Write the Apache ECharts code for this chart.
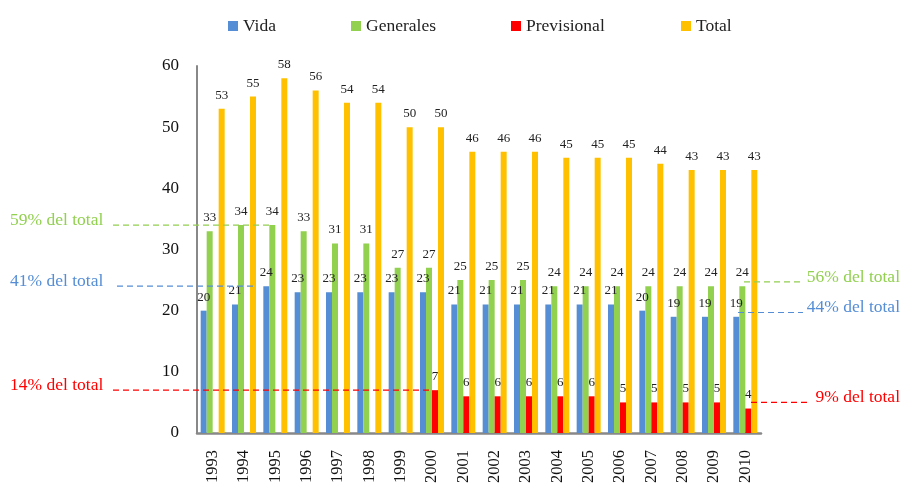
<!DOCTYPE html>
<html><head><meta charset="utf-8">
<script src="https://cdn.jsdelivr.net/npm/echarts@6/dist/echarts.min.js"></script>
<style>html,body{margin:0;padding:0;background:#fff}#c{width:901px;height:486px}</style>
</head><body><div id="c"></div>
<script>
const years = ['1993','1994','1995','1996','1997','1998','1999','2000','2001','2002','2003','2004','2005','2006','2007','2008','2009','2010'];
const vida = [20,21,24,23,23,23,23,23,21,21,21,21,21,21,20,19,19,19];
const generales = [33,34,34,33,31,31,27,27,25,25,25,24,24,24,24,24,24,24];
const previsional = [null,null,null,null,null,null,null,7,6,6,6,6,6,5,5,5,5,4];
const total = [53,55,58,56,54,54,50,50,46,46,46,45,45,45,44,43,43,43];
const yTicks = [0,10,20,30,40,50,60];

const FONT = '"Liberation Serif", "DejaVu Serif", serif';
const colors = {vida:'#558ED5', gen:'#92D050', prev:'#FF0000', tot:'#FFC000'};

const chart = echarts.init(document.getElementById('c'));
const lbl = {show:true, position:'top', distance:7, fontFamily:FONT, fontSize:13, color:'#222'};
function bar(name, data, color){
  return {name, type:'bar', data, barWidth:6, barGap:'0%', itemStyle:{color}, label:lbl, animation:false};
}
function leg(name, left){
  return {data:[name], top:12, left, itemWidth:10, itemHeight:10, icon:'rect',
    textStyle:{fontFamily:FONT, fontSize:17.5, color:'#222', padding:[0,0,0,0]}, itemGap:0};
}
chart.setOption({
  animation:false,
  legend:[leg('Vida',223), leg('Generales',346), leg('Previsional',506), leg('Total',676)],
  grid:{left:197, right:140, top:66, bottom:52, containLabel:false},
  xAxis:{type:'category', data:years,
    axisLine:{lineStyle:{color:'#888', width:2.5}}, axisTick:{show:false},
    axisLabel:{rotate:90, fontFamily:FONT, fontSize:16.5, color:'#111', margin:17}},
  yAxis:{type:'value', min:0, max:60, interval:10,
    axisLine:{show:true, lineStyle:{color:'#888', width:2}}, axisTick:{show:false}, splitLine:{show:false},
    axisLabel:{fontFamily:FONT, fontSize:17, color:'#111', margin:18,
      formatter:v=>yTicks.includes(v)?String(v):''}},
  series:[bar('Vida',vida,colors.vida), bar('Generales',generales,colors.gen),
          bar('Previsional',previsional,colors.prev), bar('Total',total,colors.tot)]
});

const notes = [
  {text:'59% del total', color:'#92D050', value:34, x1:113, x2:270, tx:10, side:'left'},
  {text:'41% del total', color:'#558ED5', value:24, x1:117, x2:257, tx:10, side:'left'},
  {text:'14% del total', color:'#FF0000', value:7, x1:113, x2:432, tx:10, side:'left'},
  {text:'56% del total', color:'#92D050', value:24.7, x1:744, x2:802, tx:900, side:'right'},
  {text:'44% del total', color:'#558ED5', value:19.7, x1:738, x2:803, tx:900, side:'right'},
  {text:'9% del total', color:'#FF0000', value:5, x1:751, x2:810, tx:900, side:'right'}
];
const g = [];
notes.forEach(n=>{
  const y = chart.convertToPixel({yAxisIndex:0}, n.value);
  g.push({type:'line', shape:{x1:n.x1, y1:y, x2:n.x2, y2:y}, style:{stroke:n.color, lineWidth:1.2, lineDash:[6,4]}, z:10});
  g.push({type:'text', x:n.tx, y:y-5, style:{text:n.text, fill:n.color, font:'17.5px '+FONT,
    textAlign:n.side==='left'?'left':'right', textVerticalAlign:'middle'}, z:10});
});
chart.setOption({graphic:g});
</script></body></html>
